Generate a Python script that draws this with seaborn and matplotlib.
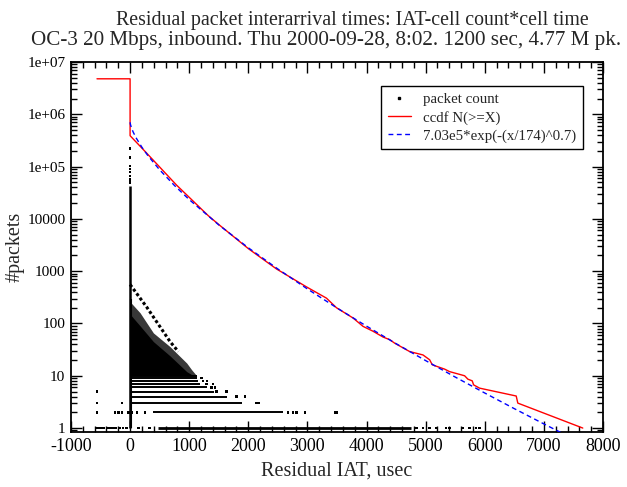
import numpy as np
import pandas as pd
import matplotlib
matplotlib.use("Agg")
import matplotlib.pyplot as plt
from matplotlib.lines import Line2D
from matplotlib.ticker import MultipleLocator, LogLocator, NullFormatter
import seaborn as sns

# ---------------- data ----------------
# ccdf N(>=X)
ccdf_x = [-560, 0, 0, 282, 788, 1323, 1500, 2000, 2478, 2985, 3322,
          3491, 3773, 3941, 4110, 4279, 4392, 4476, 4730, 4955, 5068, 5112, 5321,
          5405, 5659, 5715, 5788, 5811, 5912, 6532, 6559, 7658]
ccdf_y = [4.77e6, 4.77e6, 3.9e5, 1.8e5, 4.4e4, 1.15e4, 7.8e3,
          2.7e3, 1.1e3, 500, 305, 200, 127, 88, 71, 55, 49, 42, 29, 25, 20.2, 16.2,
          13.4, 12.0, 10.0, 8.6, 8.0, 6.7, 5.8, 4.1, 3.0, 1.0]

# fit 7.03e5*exp(-(x/174)^0.7)
fit_x = [0, 5, 20, 50, 100, 200, 300, 500, 750, 1000, 1500, 2000, 2500, 3000,
         3500, 4000, 4500, 5000, 5500, 6000, 6500, 7000, 7500]
fit_y = [7.03e5, 6.47e5, 5.64e5, 4.63e5, 3.57e5, 2.34e5, 1.63e5, 8.66e4, 4.36e4,
         2.34e4, 7680, 2800, 1100, 457, 198, 88.9, 41.1, 19.5, 9.45, 4.68, 2.35,
         1.20, 0.62]

# packet count: dense rows (count, first x, last x)
row_count = [1, 2, 3, 4, 5, 6, 7, 8, 9, 10]
row_start = [480, 380, 40, 0, 0, 0, 0, 0, 0, 0]
row_end = [4750, 2580, 1900, 1640, 1420, 1300, 1190, 1150, 1135, 1127]

# packet count: dense cloud above 10 (outer and inner envelope)
cloud_x = [0, 169, 394, 676, 958, 1042, 1127]
cloud_outer = [260, 160, 66, 36, 17.5, 13, 10]
cloud_inner = [150, 90, 45, 24, 12, 10.5, 10]

# packet count: diagonal streak
streak_x = [0, 282, 676, 816]
streak_y = [555, 205, 45, 29]

# packet count: column at x = 0
spike_lo, spike_hi = 1, 4.3e4

# packet count: isolated points
pts_x = [-563, -530, -500, -470, -440, -390, -350, -300, -250, -170, -120, -60, 140, 330,
         4843, 4955, 5068, 5180, 5349, 5405, 5631, 5743, 5856, 5912,
         -563, -253, -197, -141, -28, 28, 113, 253, 2674, 2759, 2815, 2956, 3463, 3502,
         -563, -135, 2140, 2185,
         1802, 1943,
         -563, 1464, 1633,
         1380, 1436,
         1294, 1405,
         1230, 1300, 1210,
         0, 0, 0, 0, 0, 0, 0, 0]
pts_y = [1] * 24 + [2] * 14 + [3] * 4 + [4] * 2 + [5] * 3 + [6] * 2 + [7] * 2 + [8, 8, 9] + \
        [2.2e5, 1.5e5, 1.03e5, 8.9e4, 7.8e4, 6.6e4, 5.7e4, 5.0e4]

xticks = [-1000, 0, 1000, 2000, 3000, 4000, 5000, 6000, 7000, 8000]
yticks = [1, 10, 100, 1000, 1e4, 1e5, 1e6, 1e7]
ytick_labels = ["1", "10", "100", "1000", "10000", "1e+05", "1e+06", "1e+07"]

title1 = "Residual packet interarrival times: IAT-cell count*cell time"
title2 = "OC-3 20 Mbps, inbound. Thu 2000-09-28, 8:02. 1200 sec, 4.77 M pk."

# ---------------- style ----------------
sns.set_theme(style="ticks")
plt.rcParams["font.family"] = ["Liberation Serif", "DejaVu Serif"]
plt.rcParams["axes.unicode_minus"] = False

fig = plt.figure(figsize=(6.27, 4.87), dpi=100)
ax = fig.add_axes([0.1132, 0.1129, 0.8485, 0.7598])
ax.set_yscale("log")

# cloud
ax.fill_between(cloud_x, 10, cloud_outer, color="0.22", lw=0, zorder=2)
ax.fill_between(cloud_x, 10, cloud_inner, color="black", lw=0, zorder=2)
# rows
ax.hlines(row_count[:1], row_start[:1], row_end[:1], color="black", lw=2.0, zorder=2)
ax.hlines(row_count[1:], row_start[1:], row_end[1:], color="black", lw=1.4, zorder=2)
# spike
ax.vlines([0], spike_lo, spike_hi, color="black", lw=1.8, zorder=2)
ax.vlines([15], 1, 300, color="black", lw=1.5, zorder=2)
# streak
ax.plot(streak_x, streak_y, color="black", lw=2.2, ls=(0, (1, 0.8)), zorder=2)
# isolated points
pts = pd.DataFrame({"x": pts_x, "y": pts_y})
sns.scatterplot(data=pts, x="x", y="y", ax=ax, color="black", s=3, marker="s",
                edgecolor="none", zorder=3, legend=False)

# lines
cc = pd.DataFrame({"x": ccdf_x, "y": ccdf_y})
sns.lineplot(data=cc, x="x", y="y", ax=ax, sort=False, estimator=None,
             color="#ff0000", lw=1.0, zorder=4)
ft = pd.DataFrame({"x": fit_x, "y": fit_y})
sns.lineplot(data=ft, x="x", y="y", ax=ax, sort=False, estimator=None,
             color="#0000ff", lw=1.0, dashes=False, zorder=5)
ax.lines[-1].set_dashes((3.5, 2.5))

# axes
ax.set_xlim(-1000, 8000)
ax.set_ylim(0.84, 1e7)
ax.set_xticks(xticks)
ax.set_xticklabels([str(v) for v in xticks], fontsize=13)
ax.xaxis.set_minor_locator(MultipleLocator(200))
ax.set_yticks(yticks)
ax.set_yticklabels(ytick_labels, fontsize=11)
ax.yaxis.set_minor_locator(LogLocator(base=10, subs=np.arange(2, 10), numticks=20))
ax.yaxis.set_minor_formatter(NullFormatter())
ax.tick_params(which="both", direction="in", top=True, right=True, colors="black",
               width=1.0)
ax.tick_params(which="major", length=8, pad=4)
ax.tick_params(which="minor", length=4)
for s in ax.spines.values():
    s.set_linewidth(1.3)
    s.set_color("black")

ax.set_xlabel("Residual IAT, usec", fontsize=14.5, labelpad=5)
ax.set_ylabel("#packets", fontsize=14.5, labelpad=2)

fig.text(352 / 627, 1 - 21 / 487, title1, ha="center", va="center", fontsize=14.3)
fig.text(326 / 627, 1 - 40 / 487, title2, ha="center", va="center", fontsize=15.2)

handles = [Line2D([], [], marker="s", ms=1.5, ls="none", color="black"),
           Line2D([], [], color="#ff0000", lw=1.0),
           Line2D([], [], color="#0000ff", lw=1.0, dashes=(3.5, 2.5))]
labels = ["packet count", "ccdf N(>=X)", "7.03e5*exp(-(x/174)^0.7)"]
leg = ax.legend(handles, labels, loc="upper right", bbox_to_anchor=(583 / 627, 1 - 86 / 487),
                bbox_transform=fig.transFigure, fontsize=10.7, frameon=True, fancybox=False,
                edgecolor="black", framealpha=1, borderpad=0.45, labelspacing=0.3,
                handlelength=1.6, handletextpad=0.8, borderaxespad=0)
leg.get_frame().set_linewidth(1.0)

fig.savefig("out.png", dpi=100)
